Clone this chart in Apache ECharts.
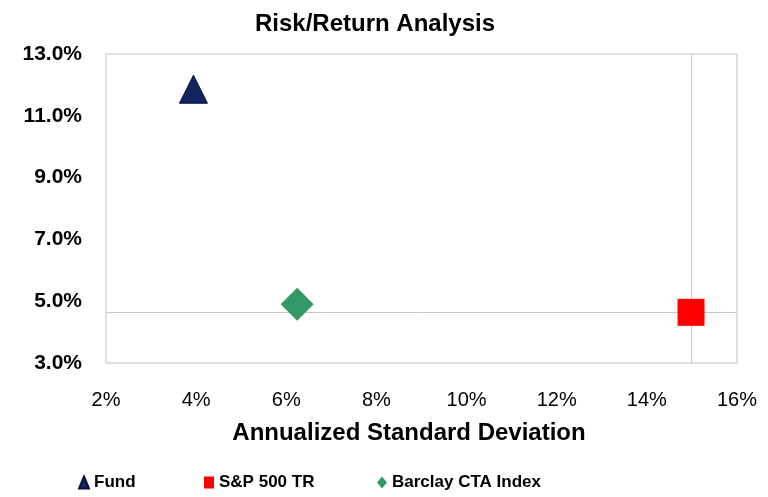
<!DOCTYPE html>
<html>
<head>
<meta charset="utf-8">
<script src="https://cdn.jsdelivr.net/npm/echarts@6/dist/echarts.min.js"></script>
<style>html,body{margin:0;padding:0;background:#fff}#c{width:768px;height:497px}</style>
</head>
<body>
<div id="c"></div>
<script>
// Data (percent units): [annualized std dev, annualized return]
const seriesNames = ['Fund', 'S&P 500 TR', 'Barclay CTA Index'];
const fundPoint = [3.94, 11.86];
const spPoint = [14.98, 4.64];
const barclayPoint = [6.24, 4.90];
const xTicks = [2, 4, 6, 8, 10, 12, 14, 16];
const yTicks = [3, 5, 7, 9, 11, 13];

const chart = echarts.init(document.getElementById('c'), null, {renderer: 'canvas'});
const font = 'Liberation Sans, Arial, sans-serif';
const legendText = {fontFamily: font, fontWeight: 'bold', fontSize: 17, color: '#000'};
const legendLefts = [73, 199, 372];
chart.setOption({
  animation: false,
  backgroundColor: '#ffffff',
  title: {
    text: 'Risk/Return Analysis',
    left: 250,
    top: 7,
    textStyle: {fontFamily: font, fontWeight: 'bold', fontSize: 24, color: '#000'}
  },
  legend: seriesNames.map((n, i) => ({
    left: legendLefts[i],
    top: 469,
    itemWidth: 10,
    itemHeight: 12,
    itemGap: 0,
    data: [n],
    textStyle: legendText
  })),
  grid: {
    left: 106, right: 31, top: 54, bottom: 134,
    show: true, borderColor: '#c0c0c0', borderWidth: 1
  },
  xAxis: {
    type: 'value',
    min: xTicks[0], max: xTicks[xTicks.length - 1], interval: 2,
    name: 'Annualized Standard Deviation',
    nameLocation: 'middle',
    nameGap: 58,
    nameTextStyle: {fontFamily: font, fontWeight: 'bold', fontSize: 24, color: '#000', padding: [0, 25, 0, 0]},
    axisLine: {show: false},
    axisTick: {show: false},
    splitLine: {show: false},
    axisLabel: {
      margin: 27,
      fontFamily: font, fontSize: 20, color: '#000',
      formatter: v => v + '%'
    }
  },
  yAxis: {
    type: 'value',
    min: yTicks[0], max: yTicks[yTicks.length - 1], interval: 1,
    axisLine: {show: false},
    axisTick: {show: false},
    splitLine: {show: false},
    axisLabel: {
      margin: 24,
      fontFamily: font, fontSize: 21, fontWeight: 'bold', color: '#000',
      formatter: v => (yTicks.indexOf(Math.round(v)) >= 0 && Math.abs(v - Math.round(v)) < 1e-6) ? v.toFixed(1) + '%' : ''
    }
  },
  series: [
    {
      name: seriesNames[0], type: 'scatter', symbol: 'triangle', symbolSize: 28,
      itemStyle: {color: '#13245e', borderColor: '#0a1240', borderWidth: 1, opacity: 1},
      data: [fundPoint], z: 5
    },
    {
      name: seriesNames[1], type: 'scatter', symbol: 'rect', symbolSize: 27,
      itemStyle: {color: '#ff0000', opacity: 1},
      data: [spPoint], z: 5,
      markLine: {
        silent: true, symbol: 'none', animation: false, z: 1,
        label: {show: false},
        emphasis: {disabled: true},
        lineStyle: {color: '#c8c8c8', type: 'solid', width: 1},
        data: [{xAxis: spPoint[0]}, {yAxis: spPoint[1]}]
      }
    },
    {
      name: seriesNames[2], type: 'scatter', symbol: 'diamond', symbolSize: 33,
      itemStyle: {color: '#339966', opacity: 1},
      data: [barclayPoint], z: 5
    }
  ]
});
</script>
</body>
</html>
